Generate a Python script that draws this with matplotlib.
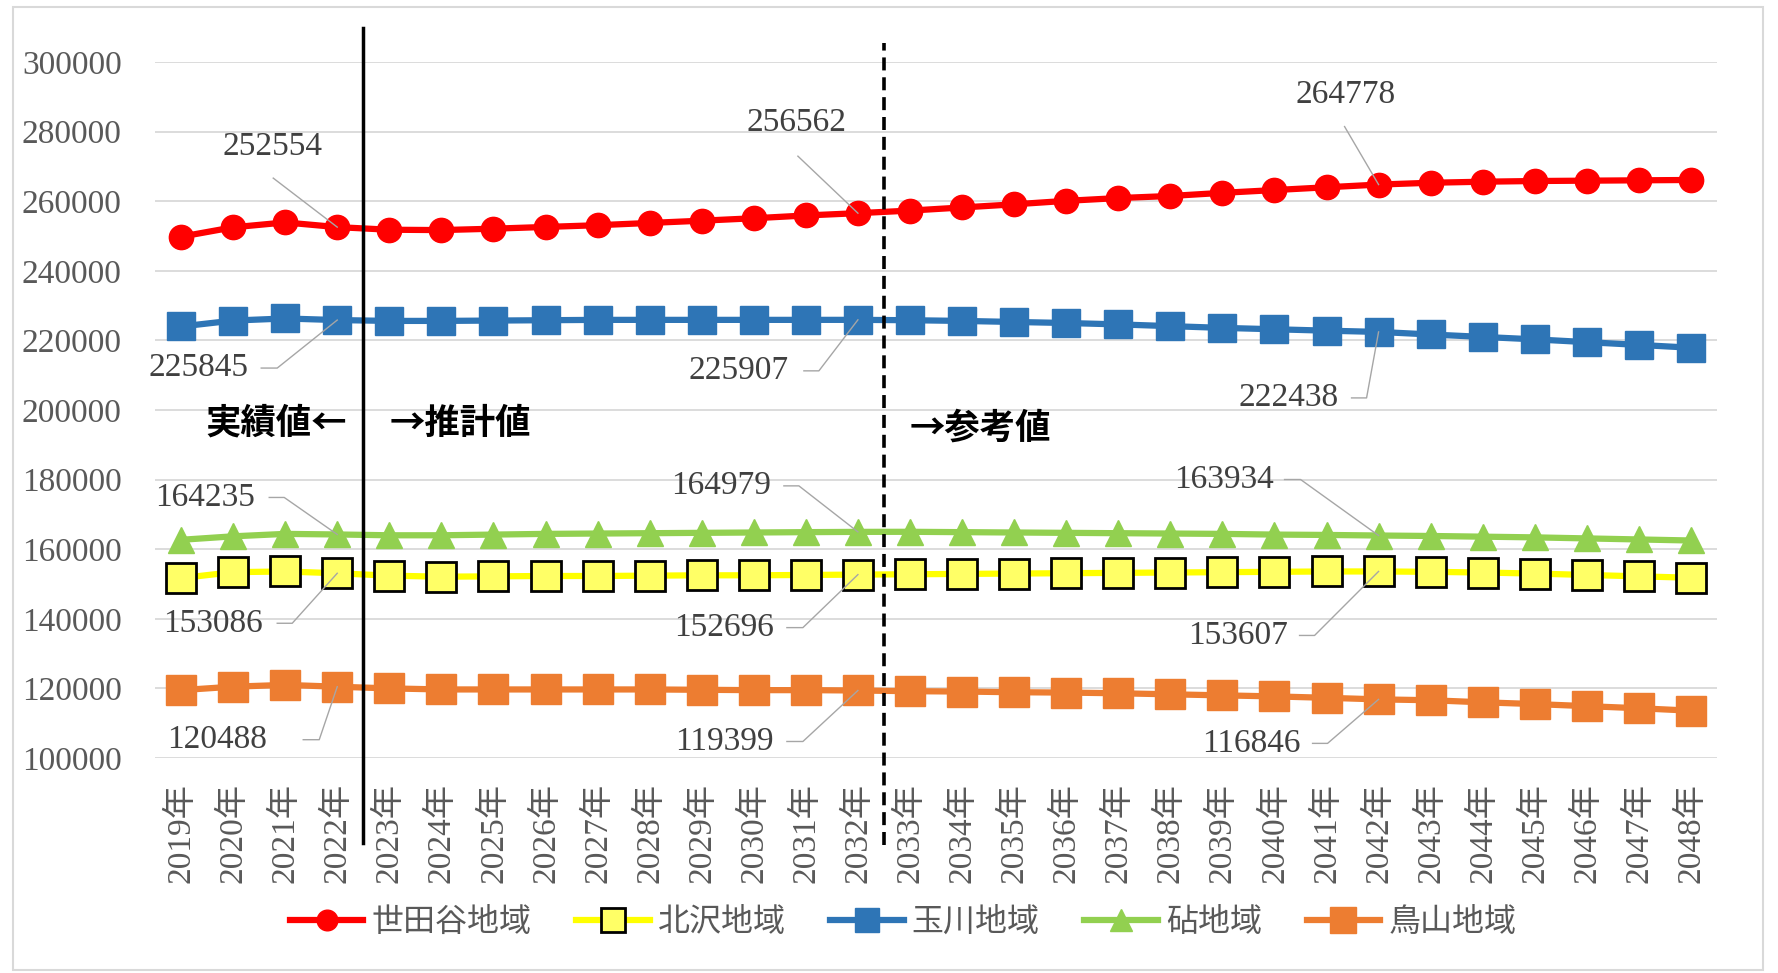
import matplotlib
matplotlib.use('Agg')
import matplotlib.pyplot as plt
import matplotlib.patches as patches

plt.rcParams['font.family'] = ['Liberation Serif', 'Noto Sans CJK JP']

# データ (2019-2048年, 人)
years = [f"{y}年" for y in range(2019, 2049)]
setagaya = [249800, 252500, 253900, 252554, 251800, 251700, 252100, 252600, 253100, 253750,
            254400, 255100, 255900, 256562, 257300, 258200, 259100, 260100, 260900, 261500,
            262400, 263200, 264000, 264778, 265300, 265600, 265800, 265900, 266000, 266100]
kitazawa = [151700, 153400, 153600, 153086, 152400, 152100, 152200, 152300, 152300, 152400,
            152500, 152500, 152600, 152696, 152800, 152900, 153000, 153100, 153200, 153300,
            153400, 153500, 153600, 153607, 153500, 153300, 153000, 152600, 152200, 151800]
tamagawa = [224000, 225700, 226300, 225845, 225600, 225600, 225700, 225800, 225900, 225900,
            225900, 225900, 225900, 225907, 225800, 225600, 225300, 225000, 224600, 224100,
            223600, 223200, 222800, 222438, 221700, 221000, 220300, 219500, 218700, 217900]
kinuta = [162700, 163700, 164400, 164235, 164000, 164000, 164200, 164400, 164500, 164600,
          164700, 164800, 164900, 164979, 165000, 164900, 164800, 164700, 164600, 164500,
          164400, 164200, 164100, 163934, 163800, 163600, 163400, 163100, 162800, 162500]
karasuyama = [119500, 120500, 121000, 120488, 120000, 119700, 119700, 119700, 119700, 119700,
              119600, 119500, 119500, 119399, 119200, 119100, 118900, 118800, 118600, 118300,
              118000, 117700, 117300, 116846, 116600, 116000, 115500, 114900, 114300, 113600]

fig = plt.figure(figsize=(17.78, 9.73), dpi=100)
ax = fig.add_axes([155 / 1778, 215 / 973, 1562 / 1778, 696 / 973])

# 系列
series = [
    (setagaya, "世田谷地域", dict(color='#FF0000', marker='o', ms=17.5, mec='#FF0000')),
    (kitazawa, "北沢地域", dict(color='#FFFF00', marker='s', ms=21, mfc='#FFFF66', mec='black', mew=2)),
    (tamagawa, "玉川地域", dict(color='#2E75B6', marker='s', ms=20, mec='#2E75B6')),
    (kinuta, "砧地域", dict(color='#92D050', marker='^', ms=19, mec='#92D050')),
    (karasuyama, "鳥山地域", dict(color='#ED7D31', marker='s', ms=22, mec='#ED7D31')),
]
x = list(range(len(years)))
for vals, name, st in series:
    ax.plot(x, vals, lw=4.5, label=name, zorder=3, **st)

ax.set_xlim(-0.5, len(years) - 0.5)
ax.set_ylim(100000, 300000)
ax.set_yticks(range(100000, 300001, 20000))
ax.set_xticks(x)
ax.set_xticklabels(years, rotation=90)
ax.grid(axis='y', color='#d9d9d9', lw=1.3)
ax.set_axisbelow(True)
for s in ax.spines.values():
    s.set_visible(False)
ax.tick_params(axis='y', length=0, pad=24, labelsize=24, labelcolor='#595959')
ax.tick_params(axis='x', length=0, pad=18, labelsize=24, labelcolor='#595959')

# 区切り線
ax.axvline(3.5, ymin=-0.122, ymax=1.049, color='black', lw=2.5, clip_on=False, zorder=5)
ax.axvline(13.5, ymin=-0.125, ymax=1.027, color='black', lw=2.6, ls=(0, (3.6, 1.9)),
           clip_on=False, zorder=5)

bold = dict(fontsize=25.5, fontweight='bold', color='black', va='center',
            family=['Noto Sans CJK JP'], textcoords='offset pixels',
            xycoords=('data', 'axes fraction'))
ax.annotate("実績値←", xy=(3.5, 0.481), xytext=(-16, 0), ha='right', **bold)
ax.annotate("→推計値", xy=(3.5, 0.481), xytext=(26, 0), ha='left', **bold)
ax.annotate("→参考値", xy=(13.5, 0.474), xytext=(26, 0), ha='left', **bold)


def shift(i, v, dx, dy):
    px, py = ax.transData.transform((i, v))
    return ax.transData.inverted().transform((px + dx, py + dy))


# データラベル: (系列, 年index, テキスト位置, ha, 引出線の点) ※オフセットはピクセル
labels = [
    (setagaya, 3, (-65, 80), 'center', [(-64, 49)]),
    (tamagawa, 3, (-89, -48), 'right', [(-76, -48), (-60, -48)]),
    (kinuta, 3, (-82, 37), 'right', [(-68, 37), (-53, 37)]),
    (kitazawa, 3, (-74, -50), 'right', [(-60, -50), (-45, -50)]),
    (karasuyama, 3, (-70, -53), 'right', [(-34, -53), (-18, -53)]),
    (setagaya, 13, (-61, 90), 'center', [(-60, 57)]),
    (tamagawa, 13, (-69, -51), 'right', [(-54, -51), (-39, -51)]),
    (kinuta, 13, (-87, 46), 'right', [(-74, 46), (-59, 46)]),
    (kitazawa, 13, (-84, -53), 'right', [(-71, -53), (-55, -53)]),
    (karasuyama, 13, (-84, -51), 'right', [(-71, -51), (-55, -51)]),
    (setagaya, 23, (-33, 90), 'center', [(-34, 58)]),
    (tamagawa, 23, (-40, -66), 'right', [(-27, -66), (-12, -66)]),
    (kinuta, 23, (-105, 56), 'right', [(-94, 56), (-78, 56)]),
    (kitazawa, 23, (-91, -64), 'right', [(-79, -64), (-64, -64)]),
    (karasuyama, 23, (-78, -44), 'right', [(-66, -44), (-51, -44)]),
]
for vals, i, (tx, ty), ha, pts in labels:
    v = vals[i]
    ax.annotate(f"{v}", xy=(i, v), xytext=(tx, ty), textcoords='offset pixels',
                ha=ha, va='center', fontsize=24, color='#404040', zorder=6)
    path = [shift(i, v, dx, dy) for dx, dy in pts] + [(i, v)]
    ax.plot([p[0] for p in path], [p[1] for p in path], color='#a6a6a6', lw=1.0,
            clip_on=False, zorder=4)

leg = fig.legend(loc='center', bbox_to_anchor=(903 / 1778, 51 / 973), ncol=5, frameon=False,
                 handlelength=2.3, handletextpad=0.25, columnspacing=1.4,
                 markerscale=0.85, prop={'family': ['Noto Sans CJK JP'], 'size': 23})
for t in leg.get_texts():
    t.set_color('#595959')

# 外枠
fig.patches.append(patches.Rectangle((13 / 1778, 3 / 973), 1750 / 1778, 963 / 973,
                                     transform=fig.transFigure, fill=False,
                                     ec='#d9d9d9', lw=1.5))

fig.savefig('out.png', dpi=100)
